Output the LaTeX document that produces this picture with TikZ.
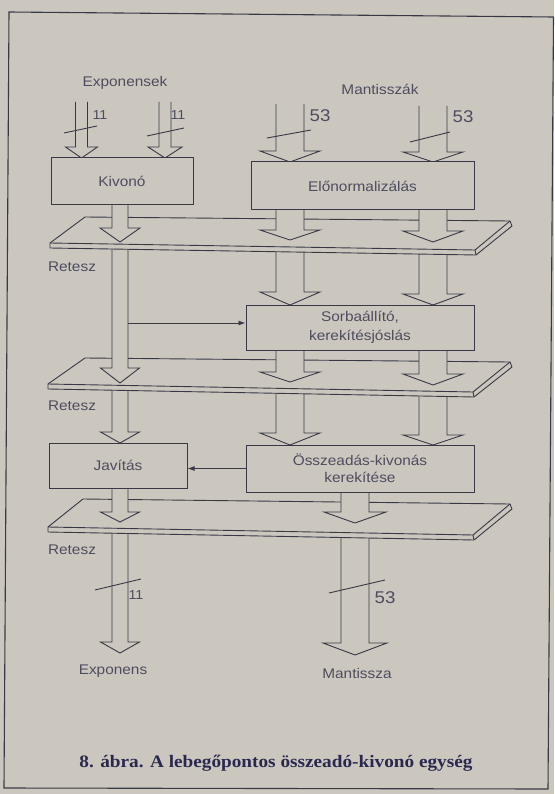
\documentclass[tikz,border=0pt]{standalone}
\usepackage{fontspec}
\setmainfont{Liberation Serif}
\newfontfamily\lblfont[FakeStretch=1.1]{Liberation Sans}
\newfontfamily\capfont[FakeStretch=1.1]{Liberation Serif}
\usetikzlibrary{arrows.meta}
\definecolor{paper}{HTML}{CBC7BE}
\definecolor{ink}{HTML}{3A3848}
\definecolor{lbl}{HTML}{4E4C60}
\definecolor{capink}{HTML}{2A2850}
% cx, top, headstart, tip, shaft half width, head half width
\newcommand\blkarrow[6]{%
  \filldraw[barrow] ({#1-#5},#2) -- ({#1-#5},#3) -- ({#1-#6},#3) -- (#1,#4) -- ({#1+#6},#3) -- ({#1+#5},#3) -- ({#1+#5},#2);}
\tikzset{
  barrow/.style={draw=ink, fill=paper, line width=0.9pt, line join=miter},
  box/.style={draw=ink, line width=1pt, fill=paper, inner sep=0pt, align=center,
    font=\lblfont\fontsize{14}{18}\selectfont, text=lbl},
  slabst/.style={draw=ink, line width=0.9pt, fill=paper, line join=round},
  lab/.style={font=\lblfont\fontsize{14}{18}\selectfont, text=lbl, inner sep=0pt},
  small/.style={font=\lblfont\fontsize{13}{15}\selectfont, text=lbl, inner sep=0pt},
  big/.style={font=\lblfont\fontsize{17}{19}\selectfont, text=lbl, inner sep=0pt},
  slash/.style={draw=ink, line width=0.9pt},
  conn/.style={draw=ink, line width=0.9pt, -{Latex[length=7pt,width=5pt]}},
  frame/.style={draw=ink, line width=1.1pt}
}
\begin{document}
\begin{tikzpicture}[x=1pt,y=-1pt]
\useasboundingbox (0,0) rectangle (554,794);
\fill[paper] (0,0) rectangle (554,794);
% frame
\draw[frame] (553.5,17) -- (9,12) -- (4,788) -- (548,789) -- (553.5,17);

% ---- below slab 3
\blkarrow{120}{520}{642}{653}{8}{19.5}
\blkarrow{355}{520}{643}{655}{14}{32}
% slab 3
\filldraw[slabst] (83,499) -- (510,504) -- (512,509) -- (474,540) -- (48,532) -- (48,527) -- cycle;
\draw[slabst, fill=none] (48,527) -- (473,535) -- (510,504);
\draw[slabst] (473,535) -- (474,540);

% ---- between slab 2 and slab 3
\blkarrow{120}{378}{432}{443}{8}{19.5}
\blkarrow{120}{488}{512}{522}{8}{19.5}
\blkarrow{290}{380}{433}{445}{14}{30}
\blkarrow{433}{380}{435}{445}{14}{30}
\blkarrow{355}{492}{512}{523}{14}{31}
\node[box, minimum width=138pt, minimum height=45pt] (jav) at (118,465.5) {Javítás};
\node[box, minimum width=228pt, minimum height=47pt] (osz) at (360,468.5)
  {Összeadás-kivonás\\[-1pt]kerekítése};
\draw[conn] (osz.west) -- (osz.west -| jav.east);
% slab 2
\filldraw[slabst] (85,358) -- (510,362) -- (512,367) -- (474,397) -- (48,389) -- (48,384) -- cycle;
\draw[slabst, fill=none] (48,384) -- (473,392) -- (510,362);
\draw[slabst] (473,392) -- (474,397);

% ---- between slab 1 and slab 2
\blkarrow{120}{238}{368}{383}{8}{19.5}
\blkarrow{290}{240}{292}{305}{14}{30}
\blkarrow{433}{240}{294}{305}{14}{30}
\blkarrow{290}{350}{372}{382}{14}{30}
\blkarrow{433}{350}{374}{385}{14}{30}
\node[box, minimum width=228pt, minimum height=45pt] (sor) at (360,327.5)
  {Sorbaállító,\\[1pt]kerekítésjóslás};
\coordinate (sorin) at (128,323);
\draw[conn] (sorin) -- (sorin -| sor.west);
% slab 1
\filldraw[slabst] (85,217) -- (510,221) -- (512,226) -- (476,255) -- (50,248) -- (50,243) -- cycle;
\draw[slabst, fill=none] (50,243) -- (475,250) -- (510,221);
\draw[slabst] (475,250) -- (476,255);

% ---- above slab 1
\blkarrow{81.5}{102}{147}{158}{6}{16}
\blkarrow{165}{102}{147}{158}{6}{17}
\blkarrow{290}{104}{151}{162}{14}{30}
\blkarrow{433}{106}{152}{162}{14}{30}
\blkarrow{120}{205}{228}{242}{8}{20}
\blkarrow{290}{210}{230}{240}{14}{30}
\blkarrow{433}{210}{231}{242}{14}{30}
\node[box, minimum width=142pt, minimum height=47pt] (kiv) at (122,181.5) {Kivonó};
\node[box, minimum width=223pt, minimum height=48pt] (elo) at (362.5,186) {Előnormalizálás};

% slashes
\draw[slash] (64,133) -- (97,126);
\draw[slash] (147,136) -- (184,128);
\draw[slash] (267,138) -- (311,130);
\draw[slash] (410,142) -- (450,132);
\draw[slash] (95,590) -- (141,579);
\draw[slash] (329,593) -- (385,580);

% labels
\node[lab] (lexp) at (125,83) {Exponensek};
\node[lab] (lman) at (380,89) {Mantisszák};
\node[small] (n1) at (100,115) {11};
\node[small] (n2) at (178,115) {11};
\node[big] (n3) at (320,116) {53};
\node[big] (n4) at (463,117) {53};
\node[lab] (r1) at (72,267) {Retesz};
\node[lab] (r2) at (72,406) {Retesz};
\node[lab] (r3) at (72,550) {Retesz};
\node[small] (n5) at (136,595) {11};
\node[big] (n6) at (385,598) {53};
\node[lab] (oexp) at (113,671) {Exponens};
\node[lab] (oman) at (357,673) {Mantissza};
\node[font=\capfont\bfseries\fontsize{17.5}{20}\selectfont, text=capink, inner sep=0pt] (cap) at (276,763)
  {8. ábra. A lebegőpontos összeadó-kivonó egység};
\end{tikzpicture}
\end{document}
